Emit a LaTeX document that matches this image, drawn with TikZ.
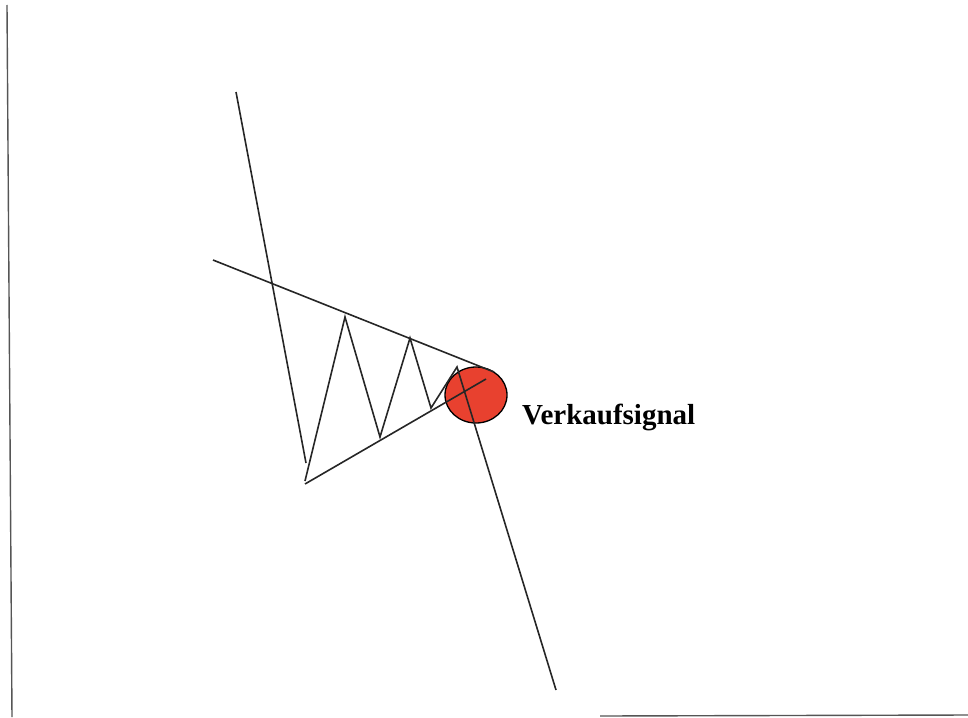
\documentclass[tikz,border=0pt]{standalone}
\usepackage{fontspec}
\setmainfont{Liberation Serif}
\usepackage{tikz}
\usetikzlibrary{positioning,shapes.geometric}
\definecolor{signal}{HTML}{E8412F}
\definecolor{frameline}{HTML}{555555}
\tikzset{
  course/.style={draw=black!85, line width=1.6pt, line join=miter},
  trend/.style={draw=black!85, line width=1.6pt},
  sigdot/.style={ellipse, draw=black, line width=1.3pt, fill=signal,
                 minimum width=62pt, minimum height=56pt, inner sep=0pt},
  siglabel/.style={font=\fontsize{29}{34}\selectfont\bfseries, text=black, inner sep=0pt},
  frame/.style={draw=frameline, line width=1.4pt},
}

\begin{document}
\begin{tikzpicture}[x=1pt, y=-1pt]
    \useasboundingbox (0,0) rectangle (968,717);
    % page edges
    \draw[frame] (7,5) -- (12,717);
    \draw[frame] (600,716) -- (968,715);
    % sell signal
    \node[sigdot] (sig) at (476,395) {};
    \node[siglabel, anchor=base west] (lbl) at (522,424) {Verkaufsignal};
    % price course
    \coordinate (peak0) at (236,92);
    \coordinate (dip0) at (306,463);
    \coordinate (dip1) at (305,481);
    \coordinate (peak1) at (345,317);
    \coordinate (dip2) at (380,437);
    \coordinate (peak2) at (410,338);
    \coordinate (dip3) at (431,408);
    \coordinate (peak3) at (457,367);
    \coordinate (fall) at (556,690);
    \draw[course] (peak0) -- (dip0);
    \draw[course] (dip1) -- (peak1) -- (dip2) -- (peak2) -- (dip3) -- (peak3) -- (fall);
    % triangle
    \coordinate (upA) at (213,260);
    \coordinate (upB) at (494,372);
    \coordinate (loA) at (305,484);
    \coordinate (loB) at (486,379);
    \draw[trend] (upA) -- (upB);
    \draw[trend] (loA) -- (loB);
  \end{tikzpicture}
\end{document}
